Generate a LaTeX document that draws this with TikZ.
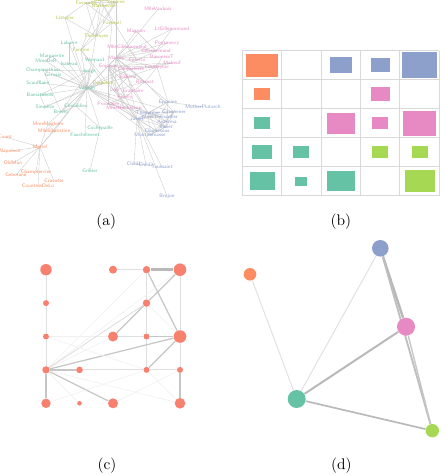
\documentclass[tikz,border=0pt]{standalone}
\usepackage{fontspec}
\usepackage{tikz}
\usetikzlibrary{backgrounds}
\definecolor{stteal}{HTML}{66C2A5}
\definecolor{storange}{HTML}{FC8D62}
\definecolor{stblue}{HTML}{8DA0CB}
\definecolor{stpink}{HTML}{E78AC3}
\definecolor{stgreen}{HTML}{A6D854}
\definecolor{styellow}{HTML}{B8C545}
\definecolor{ctsalmon}{HTML}{F8806F}

\begin{document}
\begin{tikzpicture}[
  x=0.65pt, y=-0.65pt,
  lbl/.style={font=\fontsize{3.3}{3.6}\selectfont\sffamily, inner sep=0.2pt},
  lnk/.style={draw=gray!40, line width=0.25pt},
  grd/.style={draw=gray!30, line width=0.6pt},
  blk/.style={fill=#1, inner sep=0pt},
  dot/.style={circle, fill=#1, inner sep=0pt},
  w1/.style={draw=gray!12, line width=0.4pt},
  w2/.style={draw=gray!25, line width=0.6pt},
  w3/.style={draw=gray!45, line width=0.8pt},
  w4/.style={draw=gray!55, line width=1.6pt},
  caplbl/.style={font=\normalsize},
]
\useasboundingbox (0,0) rectangle (445,475);

% (a) labelled co-occurrence graph
\foreach \n/\x/\y in {Myriel/40/147, Napoleon/10/151, MlleBaptistine/54/131, MmeMagloire/48/124,
    CountessDeLo/38/186, Geborand/16/175, Champtercier/36/172, Cravatte/54/181, Count/5/137, OldMan/13/163}
  \node[lbl, text=storange] (\n) at (\x,\y) {\n};
\foreach \n/\x/\y in {Valjean/87/88, Labarre/69/43, Marguerite/52/56, MmeDeR/46/61, Isabeau/69/64,
    Champmathieu/43/70, Gervais/53/75, Woman1/95/60, Judge/89/71, Scaufflaire/38/83, Bamatabois/40/95,
    Simplice/45/107, Brevet/61/112, Chenildieu/76/106, Fauchelevent/85/135, Cochepaille/100/128, Gribier/90/171}
  \node[lbl, text=stteal] (\n) at (\x,\y) {\n};
\foreach \n/\x/\y in {Favourite/86/3, Dahlia/101/0, Blacheville/104/6, Zephine/116/2, Fameuil/112/23,
    Listolier/65/18, Tholomyes/96/36, Fantine/81/50, Perpetue/103/83}
  \node[lbl, text=styellow] (\n) at (\x,\y) {\n};
\foreach \n/\x/\y in {MlleVaubois/158/9, Magnon/136/31, LtGillenormand/172/29, Pontmercy/167/43,
    MlleGillenormand/127/47, Gillenormand/156/51, BaronessT/162/57, Mabeuf/172/63, Marius/116/58,
    Cosette/137/60, Enjolras/108/66, Combeferre/131/69, Courfeyrac/157/67, Bahorel/128/77, Bossuet/145/82,
    Joly/115/90, Grantaire/133/91, Feuilly/125/97, Prouvaire/108/104, MmeHucheloup/124/108}
  \node[lbl, text=stpink] (\n) at (\x,\y) {\n};
\foreach \n/\x/\y in {Eponine/168/102, MotherPlutarch/203/107, Thenardier/148/113, Gueulemer/174/112,
    Javert/137/119, MmeThenardier/160/117, Anzelma/167/122, Babet/166/127, Claquesous/157/131,
    Montparnasse/150/135, Child1/134/164, Child2/146/165, Toussaint/162/167, Brujon/167/196}
  \node[lbl, text=stblue] (\n) at (\x,\y) {\n};

\begin{scope}[on background layer]
\foreach \a/\b in {Myriel/Napoleon, Myriel/Count, Myriel/OldMan, Myriel/Geborand, Myriel/Champtercier,
    Myriel/Cravatte, Myriel/CountessDeLo, Myriel/MlleBaptistine, Myriel/MmeMagloire, Myriel/Valjean,
    MlleBaptistine/MmeMagloire, MlleBaptistine/Valjean, MmeMagloire/Valjean,
    Valjean/Labarre, Valjean/Marguerite, Valjean/MmeDeR, Valjean/Isabeau, Valjean/Champmathieu,
    Valjean/Gervais, Valjean/Woman1, Valjean/Judge, Valjean/Scaufflaire, Valjean/Bamatabois,
    Valjean/Simplice, Valjean/Brevet, Valjean/Chenildieu, Valjean/Cochepaille, Valjean/Fauchelevent,
    Valjean/Fantine, Valjean/Tholomyes, Valjean/Listolier, Valjean/Perpetue, Valjean/Marius,
    Valjean/Cosette, Valjean/Enjolras, Valjean/Combeferre, Valjean/Bahorel, Valjean/Javert,
    Valjean/Thenardier, Valjean/MmeThenardier, Valjean/Gueulemer, Valjean/Babet, Valjean/Claquesous,
    Valjean/Montparnasse,
    Judge/Champmathieu, Judge/Brevet, Brevet/Chenildieu, Chenildieu/Cochepaille, Champmathieu/Brevet,
    Bamatabois/Simplice, Bamatabois/Judge, Marguerite/MmeDeR, Isabeau/Labarre, Gribier/Cochepaille,
    Tholomyes/Listolier, Tholomyes/Fameuil, Tholomyes/Blacheville, Tholomyes/Favourite, Tholomyes/Dahlia,
    Tholomyes/Zephine, Tholomyes/Fantine, Favourite/Dahlia, Favourite/Blacheville, Blacheville/Zephine,
    Dahlia/Zephine, Favourite/Zephine, Fameuil/Dahlia, Fameuil/Favourite, Listolier/Favourite,
    Fantine/Zephine, Fantine/Dahlia, Blacheville/Cosette, Zephine/Marius, Fameuil/Enjolras,
    Fantine/Perpetue, Fantine/Javert, Perpetue/Simplice,
    Marius/Cosette, Marius/MlleGillenormand, Marius/Gillenormand, Marius/Pontmercy, Marius/BaronessT,
    Marius/LtGillenormand, Marius/Enjolras, Marius/Combeferre, Marius/Courfeyrac, Marius/Bahorel,
    Marius/Bossuet, Marius/Joly, Marius/Feuilly, Marius/Prouvaire, Marius/Magnon,
    MlleVaubois/MlleGillenormand, Magnon/Gillenormand, Gillenormand/MlleGillenormand,
    Gillenormand/LtGillenormand, Cosette/Gillenormand, Cosette/MlleGillenormand, Pontmercy/Gillenormand,
    Mabeuf/Enjolras, Mabeuf/Courfeyrac, Mabeuf/Combeferre, BaronessT/Courfeyrac,
    Enjolras/Combeferre, Enjolras/Courfeyrac, Enjolras/Bahorel, Enjolras/Bossuet, Enjolras/Joly,
    Enjolras/Grantaire, Enjolras/Feuilly, Enjolras/Prouvaire, Enjolras/MmeHucheloup,
    Combeferre/Courfeyrac, Combeferre/Bossuet, Courfeyrac/Bahorel, Courfeyrac/Bossuet, Bahorel/Joly,
    Bossuet/Joly, Bossuet/Grantaire, Joly/Feuilly, Grantaire/Feuilly, Feuilly/Prouvaire,
    Prouvaire/MmeHucheloup, Bahorel/Grantaire, Joly/MmeHucheloup,
    Enjolras/Javert, Bahorel/Javert, Courfeyrac/Eponine, Marius/Eponine, Marius/Thenardier,
    Bossuet/Gueulemer, Joly/Javert, Grantaire/Thenardier, MmeHucheloup/Javert, Prouvaire/Thenardier,
    Javert/Thenardier, Javert/MmeThenardier, Javert/Eponine, Javert/Gueulemer, Javert/Babet,
    Javert/Claquesous, Javert/Montparnasse, Javert/Child1, Javert/Child2, Javert/Toussaint, Javert/Brujon,
    Thenardier/MmeThenardier, Thenardier/Eponine, Thenardier/Gueulemer, Thenardier/Babet,
    Thenardier/Claquesous, Thenardier/Montparnasse, Thenardier/Anzelma, MmeThenardier/Anzelma,
    MmeThenardier/Eponine, Gueulemer/Babet, Babet/Claquesous, Claquesous/Montparnasse,
    Gueulemer/Montparnasse, Eponine/MotherPlutarch, Eponine/Anzelma, Gueulemer/Claquesous,
    Anzelma/Babet, Montparnasse/Babet, Child1/Child2}
  \draw[lnk] (\a.center) -- (\b.center);
\end{scope}

% (b) group matrix
\foreach \c in {0,...,5}
  \draw[grd] ({242.3+39.4*\c},50.7) -- ({242.3+39.4*\c},195.7);
\foreach \r in {0,...,5}
  \draw[grd] (242.3,{50.7+29*\r}) -- (439.3,{50.7+29*\r});
\foreach \c/\r/\col/\w/\h in {1/1/storange/32/23, 3/1/stblue/22/16, 4/1/stblue/19/14, 5/1/stblue/35/26,
    1/2/storange/16/12, 4/2/stpink/19/14,
    1/3/stteal/16/12, 3/3/stpink/28/21, 4/3/stpink/16/12, 5/3/stpink/33/25,
    1/4/stteal/20/14, 2/4/stteal/16/12, 4/4/stgreen/16/12, 5/4/stgreen/16/12,
    1/5/stteal/25/18, 2/5/stteal/12/9, 3/5/stteal/28/20, 5/5/stgreen/30/22}
  \node[blk=\col, minimum width=\w*0.65pt, minimum height=\h*0.65pt]
    at ({242.3+39.4*(\c-0.5)},{50.7+29*(\r-0.5)}) {};

% (c) grid layout of one group
\foreach \i/\j/\r in {0/0/5.7, 2/0/4, 3/0/3.7, 4/0/6.3, 0/1/3, 3/1/3.7, 0/2/3, 2/2/5, 3/2/3, 4/2/6.3,
    0/3/3.7, 1/3/3.3, 3/3/3, 4/3/3, 0/4/4.7, 1/4/2.3, 2/4/5, 4/4/5.3}
  \node[dot=ctsalmon, minimum size=\r*1.3pt] (c\i\j) at ({46+33.5*\i},{269.7+33.4*\j}) {};
\begin{scope}[on background layer]
\foreach \a/\b/\s in {c00/c01/w2, c01/c02/w2, c02/c03/w2, c03/c04/w3, c20/c30/w2, c30/c40/w4,
    c30/c31/w2, c31/c32/w2, c32/c33/w2, c40/c42/w2, c42/c43/w2, c43/c44/w3, c30/c42/w3, c40/c31/w3,
    c31/c22/w3, c31/c42/w1, c22/c32/w2, c32/c42/w3, c02/c22/w1, c03/c13/w3, c13/c33/w2, c33/c43/w2,
    c03/c40/w1, c03/c30/w1, c03/c31/w2, c03/c22/w1, c03/c42/w3, c03/c24/w3, c03/c14/w1, c03/c44/w1,
    c02/c33/w1, c04/c33/w1, c33/c42/w3, c33/c44/w1, c43/c24/w1}
  \draw[\s] (\a) -- (\b);
\end{scope}

% (d) aggregated groups
\node[dot=stblue, minimum size=8.3*1.3pt] (gblue) at (380.3,248.3) {};
\node[dot=storange, minimum size=6.3*1.3pt] (gorange) at (250,274.3) {};
\node[dot=stpink, minimum size=9*1.3pt] (gpink) at (406,326.7) {};
\node[dot=stteal, minimum size=9*1.3pt] (gteal) at (296.7,399) {};
\node[dot=stgreen, minimum size=6.7*1.3pt] (ggreen) at (432.3,430.7) {};
\begin{scope}[on background layer]
\draw[w2] (gorange) -- (gteal);
\draw[w2] (gblue) -- (gteal);
\draw[w4] (gblue) -- (gpink);
\draw[draw=gray!50, line width=1.2pt] (gblue) -- (ggreen);
\draw[draw=gray!45, line width=0.9pt] (gpink) -- (ggreen);
\draw[draw=gray!55, line width=1.3pt] (gteal) -- (gpink);
\draw[draw=gray!55, line width=1.1pt] (gteal) -- (ggreen);
\end{scope}

\node[caplbl] (capa) at (106.3,221.5) {(a)};
\node[caplbl] (capb) at (340.8,221.5) {(b)};
\node[caplbl] (capc) at (107,465.5) {(c)};
\node[caplbl] (capd) at (341.3,465.5) {(d)};
\end{tikzpicture}
\end{document}
